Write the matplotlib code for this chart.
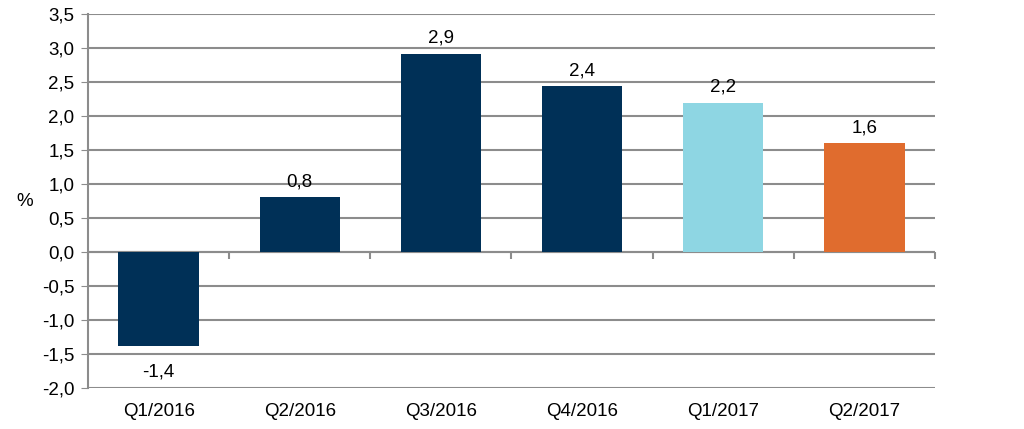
import numpy as np
import matplotlib.pyplot as plt

plt.rcParams['font.family'] = ['Liberation Sans', 'DejaVu Sans']

quarters = ['Q1/2016', 'Q2/2016', 'Q3/2016', 'Q4/2016', 'Q1/2017', 'Q2/2017']
values = [-1.38, 0.81, 2.92, 2.44, 2.2, 1.6]
colors = ['#003057', '#003057', '#003057', '#003057', '#8ed6e3', '#e06c2e']

fs = 13.5

fig = plt.figure(figsize=(10.24, 4.29), dpi=100)
ax = fig.add_axes([0.086, 0.0956, 0.827, 0.871])

x = np.arange(len(quarters))
bars = ax.bar(x, values, width=0.57, color=colors, zorder=3)

# data labels with comma decimal
for b, v in zip(bars, values):
    lab = f'{v:.1f}'.replace('.', ',')
    if v >= 0:
        ax.annotate(lab, (b.get_x() + b.get_width() / 2, v), xytext=(0, 5),
                    textcoords='offset points', ha='center', va='bottom', fontsize=fs)
    else:
        ax.annotate(lab, (b.get_x() + b.get_width() / 2, v), xytext=(0, -13),
                    textcoords='offset points', ha='center', va='top', fontsize=fs)

ax.set_xlim(-0.5, len(quarters) - 0.5)
ax.set_ylim(-2.0, 3.5)
yt = np.arange(-2.0, 3.51, 0.5)
ax.set_yticks(yt)
ax.set_yticklabels([f'{t:.1f}'.replace('.', ',') for t in yt], fontsize=fs)
ax.set_xticks(x)
ax.set_xticklabels(quarters, fontsize=fs)
ax.tick_params(axis='x', length=0, pad=11)
ax.tick_params(axis='y', length=5, color='#8c8c8c', pad=5)

ax.grid(axis='y', color='#8c8c8c', linewidth=1.5, zorder=0)
for s in ['top', 'right', 'bottom']:
    ax.spines[s].set_visible(False)
ax.spines['left'].set_color('#8c8c8c')
ax.spines['left'].set_linewidth(1.5)

# zero axis with category boundary ticks
ax.axhline(0, color='#8c8c8c', linewidth=1.5, zorder=2)
sec = ax.secondary_xaxis(2.0 / 5.5)
sec.set_xticks(np.arange(-0.5, len(quarters), 1.0))
sec.set_xticklabels([])
sec.tick_params(length=5, color='#8c8c8c', width=1.5, direction='out')
sec.spines['bottom'].set_visible(False)

ax.set_ylabel('%', rotation=0, fontsize=fs, labelpad=12, va='center')

fig.savefig('out.png', dpi=100)
